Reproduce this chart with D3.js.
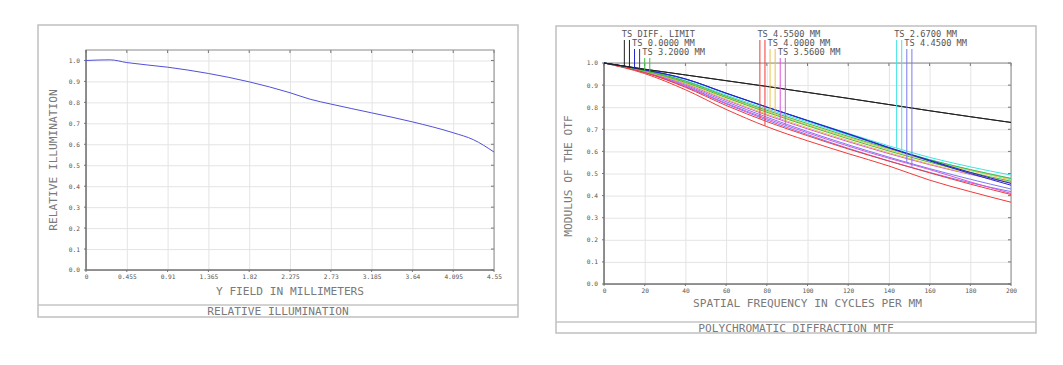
<!DOCTYPE html>
<html><head><meta charset="utf-8">
<script src="https://cdn.jsdelivr.net/npm/d3@7"></script>
<style>body{margin:0;background:#fff}svg{display:block}text{font-family:"DejaVu Sans Mono",monospace}</style>
</head><body><svg id="c" width="1063" height="365"></svg>
<script>
// ---------- Relative illumination data ----------
const fieldMM = [0, 0.27, 0.455, 0.91, 1.365, 1.82, 2.275, 2.5, 2.73, 3.185, 3.64, 4.095, 4.32, 4.55];
const relIllum = [1.0, 1.003, 0.990, 0.968, 0.938, 0.898, 0.846, 0.815, 0.792, 0.750, 0.707, 0.655, 0.622, 0.563];
const riXTicks = [0, 0.455, 0.91, 1.365, 1.82, 2.275, 2.73, 3.185, 3.64, 4.095, 4.55];
const riXTickLabels = ["0", "0.455", "0.91", "1.365", "1.82", "2.275", "2.73", "3.185", "3.64", "4.095", "4.55"];
const riYTicks = [0, 0.1, 0.2, 0.3, 0.4, 0.5, 0.6, 0.7, 0.8, 0.9, 1.0];

// ---------- MTF data ----------
const freq = [0, 20, 40, 60, 80, 100, 120, 140, 160, 180, 200];
const diffT  = [1, .972, .946, .920, .894, .867, .840, .812, .784, .757, .731];
const diffS  = [1, .972, .946, .920, .894, .867, .840, .812, .784, .757, .731];
const f0T    = [1, .969, .928, .864, .801, .740, .680, .618, .560, .505, .455];
const f0S    = [1, .969, .928, .863, .800, .739, .678, .616, .557, .500, .447];
const f32T   = [1, .966, .918, .850, .786, .726, .668, .613, .562, .518, .478];
const f32S   = [1, .964, .912, .843, .777, .716, .657, .602, .551, .505, .465];
const f455T  = [1, .957, .890, .808, .735, .671, .611, .556, .503, .452, .405];
const f455S  = [1, .952, .879, .790, .712, .648, .590, .534, .470, .418, .370];
const f40T   = [1, .965, .915, .846, .781, .720, .663, .608, .557, .513, .471];
const f40S   = [1, .962, .908, .836, .769, .707, .649, .594, .543, .499, .460];
const f356T  = [1, .962, .905, .832, .764, .702, .644, .590, .540, .496, .458];
const f356S  = [1, .958, .896, .818, .748, .684, .624, .569, .518, .462, .410];
const f267T  = [1, .968, .926, .862, .800, .741, .682, .625, .573, .530, .493];
const f267S  = [1, .966, .920, .855, .792, .733, .674, .617, .563, .516, .476];
const f445T  = [1, .960, .900, .825, .755, .690, .630, .574, .522, .474, .430];
const f445S  = [1, .957, .893, .815, .742, .676, .614, .557, .505, .458, .418];
const seriesNames = ["TS DIFF. LIMIT", "TS 0.0000 MM", "TS 3.2000 MM", "TS 4.5500 MM", "TS 4.0000 MM", "TS 3.5600 MM", "TS 2.6700 MM", "TS 4.4500 MM"];
const seriesT = [diffT, f0T, f32T, f455T, f40T, f356T, f267T, f445T];
const seriesS = [diffS, f0S, f32S, f455S, f40S, f356S, f267S, f445S];
const seriesColors = ["#222222", "#2626c8", "#44bb44", "#f03a3a", "#e8c050", "#d855d8", "#40e4e4", "#7a7af0"];
const legendBaseFreq = [10, 76.6, 143.8];   // leader-line frequency of first entry in each legend group
const legendStep = 2.5;
const mtfXTicks = [0, 20, 40, 60, 80, 100, 120, 140, 160, 180, 200];
const mtfYTicks = [0, 0.1, 0.2, 0.3, 0.4, 0.5, 0.6, 0.7, 0.8, 0.9, 1.0];

const svg = d3.select("#c");
svg.append("rect").attr("width", 1063).attr("height", 365).attr("fill", "#fff");

function panel(o) {
  const g = svg.append("g");
  g.append("rect").attr("x", o.box[0]).attr("y", o.box[1]).attr("width", o.box[2]).attr("height", o.box[3])
    .attr("fill", "none").attr("stroke", "#c4c4c4").attr("stroke-width", 1.6);
  g.append("line").attr("x1", o.box[0]).attr("x2", o.box[0] + o.box[2]).attr("y1", o.sep).attr("y2", o.sep)
    .attr("stroke", "#c4c4c4").attr("stroke-width", 1.6);
  g.append("text").attr("x", o.box[0] + o.box[2] / 2).attr("y", (o.sep + o.box[1] + o.box[3]) / 2 + 4)
    .attr("text-anchor", "middle").attr("font-size", 11.2).attr("fill", "#7a7a7a").text(o.title);

  const x = d3.scaleLinear().domain(o.xDomain).range([o.plot.l, o.plot.r]);
  const y = d3.scaleLinear().domain(o.yDomain).range([o.plot.b, o.plot.t]);
  const W = o.plot.r - o.plot.l, H = o.plot.b - o.plot.t;

  g.append("g").attr("transform", `translate(0,${o.plot.b})`)
    .call(d3.axisBottom(x).tickValues(o.xTicks).tickSize(-H).tickFormat(""))
    .call(s => { s.select(".domain").remove(); s.selectAll("line").attr("stroke", "#e4e4e4"); });
  g.append("g").attr("transform", `translate(${o.plot.l},0)`)
    .call(d3.axisLeft(y).tickValues(o.yTicks).tickSize(-W).tickFormat(""))
    .call(s => { s.select(".domain").remove(); s.selectAll("line").attr("stroke", "#e4e4e4"); });

  g.append("g").attr("transform", `translate(0,${o.plot.b})`)
    .call(d3.axisBottom(x).tickValues(o.xTicks).tickSize(0).tickPadding(5).tickFormat((d, i) => o.xLabels[i]))
    .call(s => { s.select(".domain").remove(); s.selectAll("text").attr("font-size", 6.2).attr("fill", "#555").attr("font-family", "DejaVu Sans Mono"); });
  g.append("g").attr("transform", `translate(${o.plot.l},0)`)
    .call(d3.axisLeft(y).tickValues(o.yTicks).tickSize(0).tickPadding(6).tickFormat(d3.format(".1f")))
    .call(s => { s.select(".domain").remove(); s.selectAll("text").attr("font-size", 6.2).attr("fill", "#555").attr("font-family", "DejaVu Sans Mono"); });

  const tk = g.append("g").attr("stroke", "#777");
  o.xTicks.forEach(v => {
    tk.append("line").attr("x1", x(v)).attr("x2", x(v)).attr("y1", o.plot.t).attr("y2", o.plot.t + 3);
    tk.append("line").attr("x1", x(v)).attr("x2", x(v)).attr("y1", o.plot.b).attr("y2", o.plot.b + 2);
  });
  o.yTicks.forEach(v => {
    tk.append("line").attr("y1", y(v)).attr("y2", y(v)).attr("x1", o.plot.r).attr("x2", o.plot.r - 3);
    tk.append("line").attr("y1", y(v)).attr("y2", y(v)).attr("x1", o.plot.l).attr("x2", o.plot.l - 2);
  });
  g.append("rect").attr("x", o.plot.l).attr("y", o.plot.t).attr("width", W).attr("height", H)
    .attr("fill", "none").attr("stroke", "#8a8a8a").attr("stroke-width", 1);
  g.append("path").attr("d", `M${o.plot.l},${o.plot.t}V${o.plot.b}H${o.plot.r}`)
    .attr("fill", "none").attr("stroke", "#666").attr("stroke-width", 1.1);

  g.append("text").attr("x", (o.plot.l + o.plot.r) / 2).attr("y", o.xTitleY).attr("text-anchor", "middle")
    .attr("font-size", 11.2).attr("fill", "#7a7a7a").text(o.xTitle);
  g.append("text").attr("transform", `translate(${o.yTitleX},${o.yTitleCY}) rotate(-90)`).attr("text-anchor", "middle")
    .attr("dy", "0.35em").attr("font-size", 11.2).attr("fill", "#7a7a7a").text(o.yTitle);
  return { g, x, y };
}

const L = panel({
  box: [38, 25, 480, 292], sep: 305, title: "RELATIVE ILLUMINATION",
  plot: { l: 86, r: 494, t: 50, b: 270 },
  xDomain: [0, 4.55], yDomain: [0, 1.05],
  xTicks: riXTicks, xLabels: riXTickLabels, yTicks: riYTicks,
  xTitle: "Y FIELD IN MILLIMETERS", xTitleY: 295,
  yTitle: "RELATIVE ILLUMINATION", yTitleX: 53, yTitleCY: 160
});
L.g.append("path").datum(fieldMM.map((d, i) => [d, relIllum[i]]))
  .attr("fill", "none").attr("stroke", "#5050dc").attr("stroke-width", 1)
  .attr("d", d3.line().x(d => L.x(d[0])).y(d => L.y(d[1])).curve(d3.curveMonotoneX));

const R = panel({
  box: [556, 26, 480, 307], sep: 322, title: "POLYCHROMATIC DIFFRACTION MTF",
  plot: { l: 604, r: 1011, t: 63, b: 284 },
  xDomain: [0, 200], yDomain: [0, 1],
  xTicks: mtfXTicks, xLabels: mtfXTicks.map(String), yTicks: mtfYTicks,
  xTitle: "SPATIAL FREQUENCY IN CYCLES PER MM", xTitleY: 307,
  yTitle: "MODULUS OF THE OTF", yTitleX: 568, yTitleCY: 176
});
const mline = d3.line().x(d => R.x(d[0])).y(d => R.y(d[1])).curve(d3.curveMonotoneX);
const interp = (arr, f) => {
  const i = Math.min(freq.length - 2, Math.floor(f / 20));
  const t = (f - freq[i]) / (freq[i + 1] - freq[i]);
  return arr[i] + (arr[i + 1] - arr[i]) * t;
};
const drawOrder = [7, 6, 5, 4, 3, 2, 1, 0];
drawOrder.forEach(k => {
  [seriesS[k], seriesT[k]].forEach(arr => {
    R.g.append("path").datum(freq.map((f, i) => [f, arr[i]]))
      .attr("fill", "none").attr("stroke", seriesColors[k]).attr("stroke-width", 1).attr("d", mline);
  });
});
seriesNames.forEach((name, k) => {
  const grp = Math.floor(k / 3), row = k % 3;
  const fT = legendBaseFreq[grp] + legendStep * 2 * row;
  const fS = fT + legendStep;
  const base = 37 + row * 9;
  R.g.append("text").attr("x", R.x(fT) - 2.5).attr("y", base).attr("font-size", 8.7).attr("fill", "#555").text(name);
  [[fT, seriesT[k]], [fS, seriesS[k]]].forEach(([f, arr]) => {
    R.g.append("line").attr("x1", R.x(f)).attr("x2", R.x(f)).attr("y1", base + 3).attr("y2", R.y(interp(arr, f)))
      .attr("stroke", seriesColors[k]).attr("stroke-width", 1);
  });
});
</script></body></html>
